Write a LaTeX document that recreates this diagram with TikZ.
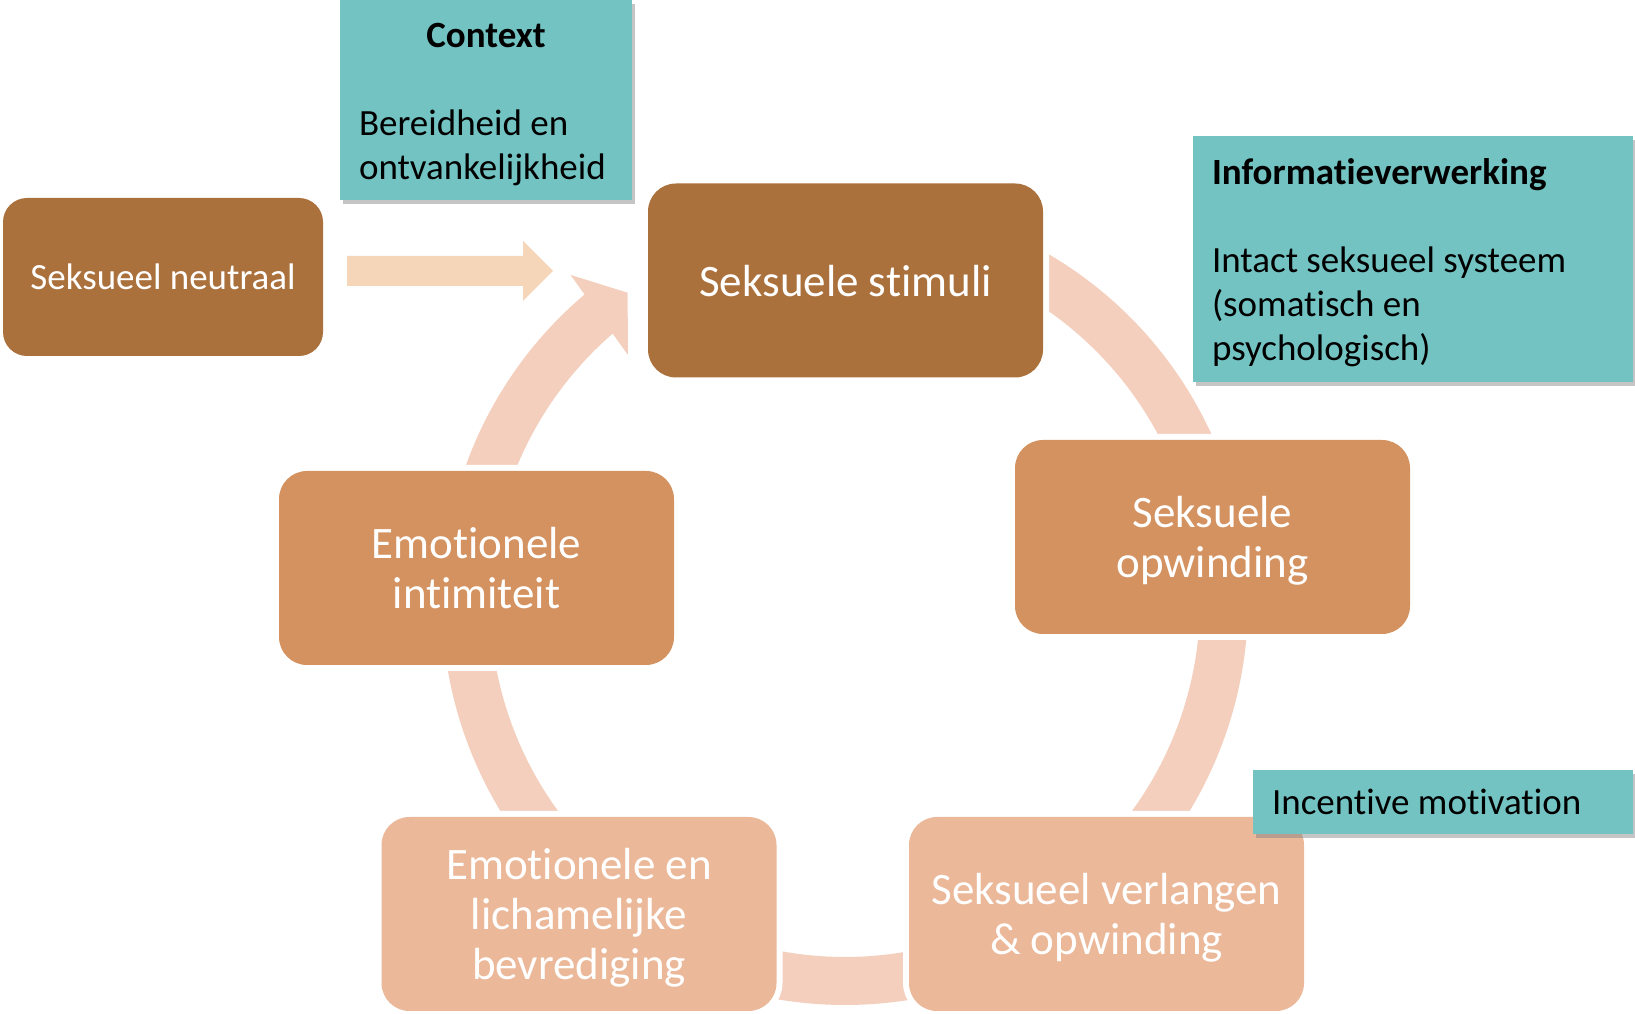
\documentclass[tikz,border=0pt]{standalone}
\usepackage{fontspec}
\setmainfont{Carlito}[Ligatures=NoCommon]
\usepackage{xcolor}
\usetikzlibrary{shadows}
\definecolor{darkclay}{HTML}{AB713D}
\definecolor{midclay}{HTML}{D49260}
\definecolor{lightclay}{HTML}{EBB899}
\definecolor{bandpeach}{HTML}{F4CFBD}
\definecolor{feedpeach}{HTML}{F5D6B9}
\definecolor{notecyan}{HTML}{73C3C3}
\tikzstyle{phase} = [rounded corners=28pt, minimum width=395pt, minimum height=194pt, text=white, align=center, text depth=0pt, font=\fontsize{45}{50}\selectfont, preaction={draw=white, line width=12pt}]
\tikzstyle{note} = [fill=notecyan, align=flush left, inner xsep=19pt, font=\fontsize{37}{44}\selectfont, drop shadow={shadow xshift=3pt, shadow yshift=-4pt, opacity=0.45}]
\tikzstyle{tallnote} = [note, execute at begin node=\rule{0pt}{33pt}]
\tikzstyle{band} = [fill=bandpeach]
\hyphenpenalty=10000

\begin{document}
\begin{tikzpicture}[x=1pt, y=1pt]
    \path[use as bounding box, fill=white] (0,0) rectangle (1635,1014);
    \coordinate (hub) at (845,412);

    % cycle arcs
    \begin{scope}[shift={(hub)}]
        \foreach \from/\to in {70/20, 0/-40, -75/-105, 225/185, 165/129.5}
            \fill[band] (\from:403) arc[start angle=\from, end angle=\to, radius=403]
                -- (\to:355) arc[start angle=\to, end angle=\from, radius=355] -- cycle;
        \fill[band] (130:427) -- (125.1:378) -- (131.3:329) -- cycle;
    \end{scope}

    % feed arrow
    \coordinate (feed) at (347,743);
    \fill[feedpeach] (feed) ++(0,15) -- ++(176,0) -- ++(0,15) -- ++(30,-30)
        -- ++(-30,-30) -- ++(0,15) -- ++(-176,0) -- cycle;

    \node (stimuli) [phase, fill=darkclay] at (845.5,733.5) {Seksuele stimuli};
    \node (opwinding) [phase, fill=midclay] at (1212.5,477) {Seksuele\\opwinding};
    \node (verlangen) [phase, fill=lightclay] at (1106.5,100) {Seksueel verlangen\\\& opwinding};
    \node (bevrediging) [phase, fill=lightclay] at (579,100) {Emotionele en\\lichamelijke\\bevrediging};
    \node (intimiteit) [phase, fill=midclay] at (476.5,446) {Emotionele\\intimiteit};

    \node (neutraal) [fill=darkclay, rounded corners=24pt, minimum width=320pt, minimum height=158pt,
        text=white, font=\fontsize{37}{44}\selectfont] at (163,737) {Seksueel neutraal};

    \node (context) [tallnote, text width=254pt, minimum height=200pt] at (486,914)
        {\hspace*{\fill}\textbf{Context}\hspace*{\fill}\mbox{}\\[44pt]Bereidheid en\\ontvankelijkheid};
    \node (info) [tallnote, text width=402pt, minimum height=246pt] at (1413,755)
        {\textbf{Informatieverwerking}\\[44pt]Intact seksueel systeem\\(somatisch en\\psychologisch)};
    \node (incentive) [note, text width=342pt, minimum height=64pt] at (1443,212) {Incentive motivation};
\end{tikzpicture}
\end{document}
